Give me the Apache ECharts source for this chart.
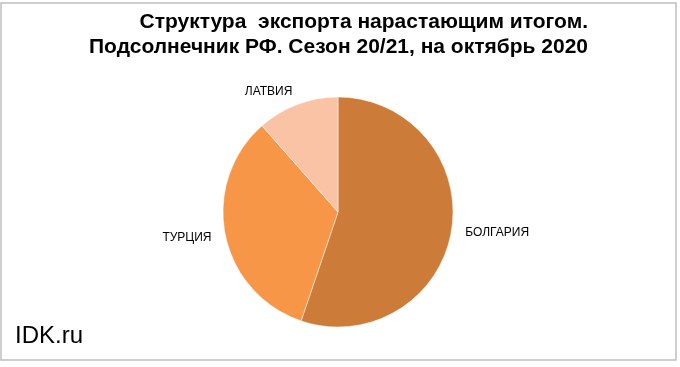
<!DOCTYPE html>
<html><head><meta charset="utf-8">
<script src="https://cdn.jsdelivr.net/npm/echarts@6/dist/echarts.min.js"></script>
<style>html,body{margin:0;padding:0;background:#fff}#c{width:680px;height:367px}</style>
</head><body><div id="c"></div>
<script>
const categories = ['БОЛГАРИЯ', 'ТУРЦИЯ', 'ЛАТВИЯ'];
const values = [55.2, 33.3, 11.5];
const colors = ['#CD7B38', '#F79646', '#FAC3A6'];
const titleLines = ['Структура  экспорта нарастающим итогом.', 'Подсолнечник РФ. Сезон 20/21, на октябрь 2020'];

const chart = echarts.init(document.getElementById('c'));
chart.setOption({
  animation: false,
  backgroundColor: '#fff',
  graphic: [
    { type: 'rect', shape: { x: 1, y: 3, width: 675, height: 357 }, style: { fill: 'none', stroke: '#BFBFBF', lineWidth: 1.5 } },
    { type: 'text', x: 588, y: 10, style: { text: titleLines.join('\n'), textAlign: 'right', fontFamily: 'Liberation Sans, Arial', fontWeight: 'bold', fontSize: 21, lineHeight: 25, fill: '#000' } },
    { type: 'text', left: 15, top: 324, style: { text: 'IDK.ru', fontFamily: 'Liberation Sans, Arial', fontSize: 24, fill: '#000' } }
  ],
  series: [{
    type: 'pie',
    center: [338, 212],
    radius: 115,
    startAngle: 90,
    clockwise: true,
    avoidLabelOverlap: false,
    data: categories.map((n, i) => ({ name: n, value: values[i], itemStyle: { color: colors[i] } })),
    itemStyle: { borderColor: '#fff', borderWidth: 0.5 },
    label: { show: true, position: 'outside', formatter: '{b}', fontFamily: 'Liberation Sans, Arial', fontSize: 12, color: '#000', distanceToLabelLine: 0 },
    labelLine: { show: false, length: 14, length2: 0 },
    emphasis: { disabled: true }
  }]
});
</script></body></html>
